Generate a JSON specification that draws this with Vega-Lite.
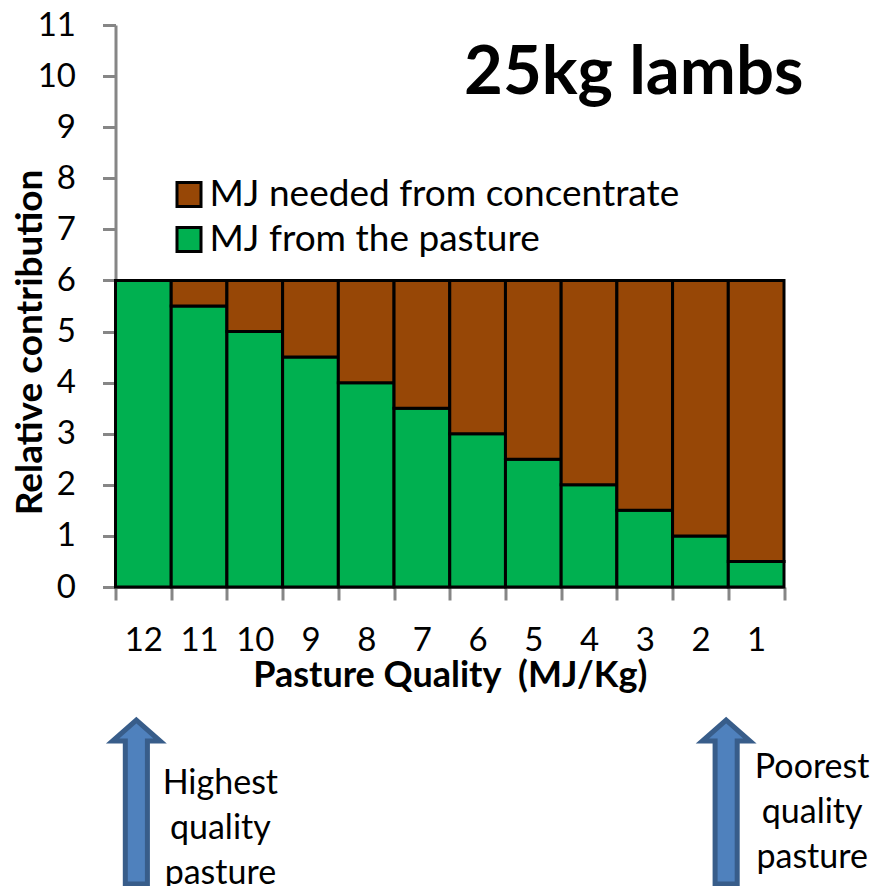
{
  "$schema": "https://vega.github.io/schema/vega-lite/v6.json",
  "width": 668.5,
  "height": 562,
  "autosize": {"type": "none"},
  "padding": {"left": 115.5, "top": 25, "right": 91, "bottom": 299},
  "background": "white",
  "config": {
    "view": {"stroke": null},
    "font": "Lato",
    "axis": {"grid": false, "labelColor": "black", "titleColor": "black", "domainColor": "#868686", "tickColor": "#868686", "domainWidth": 3, "tickWidth": 3, "labelFont": "Lato", "titleFont": "Lato", "zindex": 1}
  },
  "layer": [
    {
      "data": {
        "values": [
          {"quality": "12", "source": "MJ from the pasture", "mj": 6, "rank": 1},
          {"quality": "11", "source": "MJ from the pasture", "mj": 5.5, "rank": 1},
          {"quality": "10", "source": "MJ from the pasture", "mj": 5, "rank": 1},
          {"quality": "9", "source": "MJ from the pasture", "mj": 4.5, "rank": 1},
          {"quality": "8", "source": "MJ from the pasture", "mj": 4, "rank": 1},
          {"quality": "7", "source": "MJ from the pasture", "mj": 3.5, "rank": 1},
          {"quality": "6", "source": "MJ from the pasture", "mj": 3, "rank": 1},
          {"quality": "5", "source": "MJ from the pasture", "mj": 2.5, "rank": 1},
          {"quality": "4", "source": "MJ from the pasture", "mj": 2, "rank": 1},
          {"quality": "3", "source": "MJ from the pasture", "mj": 1.5, "rank": 1},
          {"quality": "2", "source": "MJ from the pasture", "mj": 1, "rank": 1},
          {"quality": "1", "source": "MJ from the pasture", "mj": 0.5, "rank": 1},
          {"quality": "12", "source": "MJ needed from concentrate", "mj": 0, "rank": 2},
          {"quality": "11", "source": "MJ needed from concentrate", "mj": 0.5, "rank": 2},
          {"quality": "10", "source": "MJ needed from concentrate", "mj": 1, "rank": 2},
          {"quality": "9", "source": "MJ needed from concentrate", "mj": 1.5, "rank": 2},
          {"quality": "8", "source": "MJ needed from concentrate", "mj": 2, "rank": 2},
          {"quality": "7", "source": "MJ needed from concentrate", "mj": 2.5, "rank": 2},
          {"quality": "6", "source": "MJ needed from concentrate", "mj": 3, "rank": 2},
          {"quality": "5", "source": "MJ needed from concentrate", "mj": 3.5, "rank": 2},
          {"quality": "4", "source": "MJ needed from concentrate", "mj": 4, "rank": 2},
          {"quality": "3", "source": "MJ needed from concentrate", "mj": 4.5, "rank": 2},
          {"quality": "2", "source": "MJ needed from concentrate", "mj": 5, "rank": 2},
          {"quality": "1", "source": "MJ needed from concentrate", "mj": 5.5, "rank": 2}
        ]
      },
      "mark": {"type": "bar", "stroke": "black", "strokeWidth": 3},
      "encoding": {
        "x": {
          "field": "quality",
          "type": "nominal",
          "sort": ["12", "11", "10", "9", "8", "7", "6", "5", "4", "3", "2", "1"],
          "scale": {"paddingInner": 0, "paddingOuter": 0},
          "axis": {
            "title": "Pasture Quality\u00a0\u00a0(MJ/Kg)",
            "titleFontSize": 36,
            "titleFontWeight": "bold",
            "titleY": 88,
            "titleBaseline": "middle",
            "labelFontSize": 33,
            "labelAngle": 0,
            "labelPadding": 24,
            "tickSize": 13,
            "tickBand": "extent"
          }
        },
        "y": {
          "field": "mj",
          "type": "quantitative",
          "stack": "zero",
          "scale": {"domain": [0, 11], "nice": false},
          "axis": {
            "title": "Relative contribution",
            "titleFontSize": 37,
            "titleFontWeight": "bold",
            "titleX": -66,
            "titleY": 317,
            "titleAnchor": "middle",
            "labelFontSize": 33,
            "labelPadding": 27,
            "tickSize": 13,
            "values": [0, 1, 2, 3, 4, 5, 6, 7, 8, 9, 10, 11]
          }
        },
        "color": {
          "field": "source",
          "type": "nominal",
          "scale": {"domain": ["MJ needed from concentrate", "MJ from the pasture"], "range": ["#974706", "#00B050"]},
          "legend": {
            "title": null,
            "orient": "none",
            "legendX": 55,
            "legendY": 151,
            "symbolType": "square",
            "symbolSize": 576,
            "symbolStrokeWidth": 3,
            "symbolStrokeColor": "black",
            "labelFontSize": 37,
            "labelColor": "black",
            "labelLimit": 600,
            "labelOffset": 2,
            "rowPadding": 7
          }
        },
        "order": {"field": "rank"}
      }
    },
    {
      "data": {"values": [{"quality": "3", "label": "25kg lambs"}]},
      "mark": {"type": "text", "font": "Lato", "fontWeight": "bold", "fontSize": 67, "dx": -11, "color": "black"},
      "encoding": {
        "x": {"field": "quality", "type": "nominal", "sort": ["12", "11", "10", "9", "8", "7", "6", "5", "4", "3", "2", "1"]},
        "y": {"datum": 10.04},
        "text": {"field": "label"}
      }
    },
    {
      "data": {"values": [{"quality": "12"}]},
      "mark": {"type": "point", "shape": "M0,-0.94L0.28,-0.694L0.13,-0.694L0.13,0.988L-0.13,0.988L-0.13,-0.694L-0.28,-0.694Z", "size": 28900, "filled": true, "fill": "#4F81BD", "stroke": "#385D8A", "strokeWidth": 5, "opacity": 1, "xOffset": -7},
      "encoding": {
        "x": {"field": "quality", "type": "nominal", "sort": ["12", "11", "10", "9", "8", "7", "6", "5", "4", "3", "2", "1"]},
        "y": {"datum": -4.17}
      }
    },
    {
      "data": {"values": [{"quality": "1"}]},
      "mark": {"type": "point", "shape": "M0,-0.94L0.28,-0.694L0.13,-0.694L0.13,0.988L-0.13,0.988L-0.13,-0.694L-0.28,-0.694Z", "size": 28900, "filled": true, "fill": "#4F81BD", "stroke": "#385D8A", "strokeWidth": 5, "opacity": 1, "xOffset": -30},
      "encoding": {
        "x": {"field": "quality", "type": "nominal", "sort": ["12", "11", "10", "9", "8", "7", "6", "5", "4", "3", "2", "1"]},
        "y": {"datum": -4.17}
      }
    },
    {
      "data": {"values": [{"quality": "12", "note": "Highest|quality|pasture"}]},
      "mark": {"type": "text", "font": "Lato", "fontSize": 34, "lineBreak": "|", "lineHeight": 45, "dx": 77, "color": "black"},
      "encoding": {
        "x": {"field": "quality", "type": "nominal", "sort": ["12", "11", "10", "9", "8", "7", "6", "5", "4", "3", "2", "1"]},
        "y": {"datum": -3.85},
        "text": {"field": "note"}
      }
    },
    {
      "data": {"values": [{"quality": "1", "note": "Poorest|quality|pasture"}]},
      "mark": {"type": "text", "font": "Lato", "fontSize": 34, "lineBreak": "|", "lineHeight": 45, "dx": 56, "color": "black"},
      "encoding": {
        "x": {"field": "quality", "type": "nominal", "sort": ["12", "11", "10", "9", "8", "7", "6", "5", "4", "3", "2", "1"]},
        "y": {"datum": -3.55},
        "text": {"field": "note"}
      }
    }
  ]
}
